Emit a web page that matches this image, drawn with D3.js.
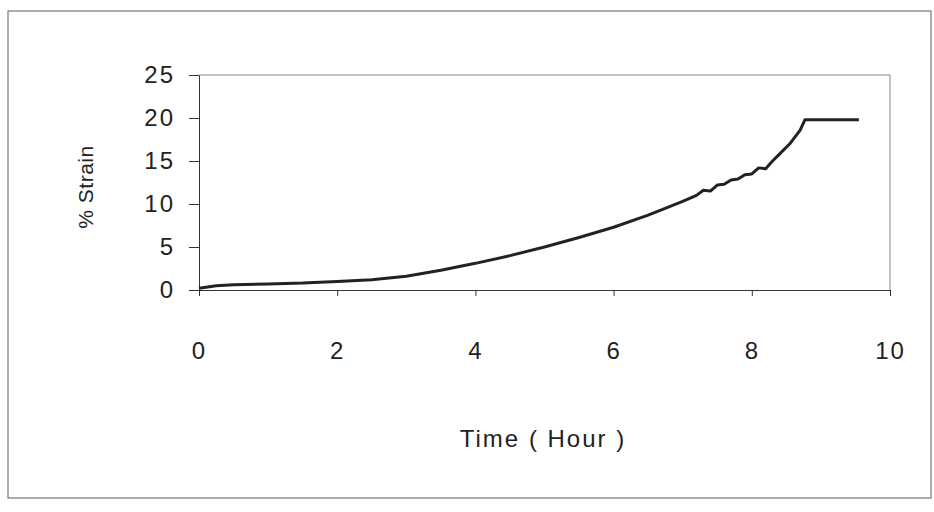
<!DOCTYPE html>
<html>
<head>
<meta charset="utf-8">
<script src="https://cdn.jsdelivr.net/npm/d3@7"></script>
<style>
body { margin: 0; background: #fff; }
svg text { font-family: "Liberation Sans", Arial, sans-serif; fill: #222; }
</style>
</head>
<body>
<svg id="chart"></svg>
<script>
// creep curve
var hours = [0, 0.25, 0.5, 1, 1.5, 2, 2.5, 3, 3.5, 4, 4.5, 5, 5.5, 6, 6.5, 7, 7.2, 7.3, 7.4, 7.5, 7.6, 7.7, 7.8, 7.9, 8, 8.1, 8.2, 8.3, 8.4, 8.55, 8.7, 8.77, 9.55];
var strain = [0.2, 0.5, 0.6, 0.7, 0.8, 1.0, 1.2, 1.6, 2.3, 3.1, 4.0, 5.0, 6.1, 7.3, 8.7, 10.3, 11.0, 11.6, 11.5, 12.2, 12.3, 12.8, 12.9, 13.4, 13.5, 14.2, 14.1, 15.0, 15.8, 17.0, 18.6, 19.8, 19.8];
var xTicks = [0, 2, 4, 6, 8, 10];
var yTicks = [0, 5, 10, 15, 20, 25];

var W = 934, H = 512;
var margin = { top: 75, right: 44, bottom: 222, left: 199 };
var width = W - margin.left - margin.right;
var height = H - margin.top - margin.bottom;

var svg = d3.select("#chart").attr("width", W).attr("height", H);

// outer chart border
svg.append("rect")
.attr("x", 8).attr("y", 11)
.attr("width", 923).attr("height", 487)
.attr("fill", "none")
.attr("stroke", "#777")
.attr("stroke-width", 1.2);

var g = svg.append("g")
.attr("transform", "translate(" + margin.left + "," + margin.top + ")");

var x = d3.scaleLinear().domain([0, 10]).range([0, width]);
var y = d3.scaleLinear().domain([0, 25]).range([height, 0]);

// plot frame (top + right, grey)
g.append("path")
.attr("d", "M0,0H" + width + "V" + height)
.attr("fill", "none")
.attr("stroke", "#888")
.attr("stroke-width", 1);

var yAxis = g.append("g")
.call(d3.axisLeft(y).tickValues(yTicks).tickSize(10).tickPadding(14).tickSizeOuter(0));
yAxis.select(".domain").attr("stroke", "#333");
yAxis.selectAll(".tick line").attr("stroke", "#333");
yAxis.selectAll("text").style("font-size", "24px").style("letter-spacing", "2px").attr("fill", "#222");

var xAxis = g.append("g")
.attr("transform", "translate(0," + height + ")")
.call(d3.axisBottom(x).tickValues(xTicks).tickSize(6).tickPadding(46).tickSizeOuter(0));
xAxis.select(".domain").attr("stroke", "#333");
xAxis.selectAll(".tick line").attr("stroke", "#333");
xAxis.selectAll("text").style("font-size", "24px").style("letter-spacing", "2px").attr("fill", "#222");

var line = d3.line()
.x(function(d, i) { return x(hours[i]); })
.y(function(d) { return y(d); });

g.append("path")
.datum(strain)
.attr("d", line)
.attr("fill", "none")
.attr("stroke", "#222")
.attr("stroke-width", 3)
.attr("stroke-linejoin", "round");

svg.append("text")
.attr("x", 543).attr("y", 447)
.attr("text-anchor", "middle")
.style("font-size", "24px")
.style("letter-spacing", "2px")
.text("Time ( Hour )");

svg.append("text")
.attr("transform", "translate(93,187) rotate(-90)")
.attr("text-anchor", "middle")
.style("font-size", "21px")
.style("letter-spacing", "0.5px")
.text("% Strain");
</script>
</body>
</html>
